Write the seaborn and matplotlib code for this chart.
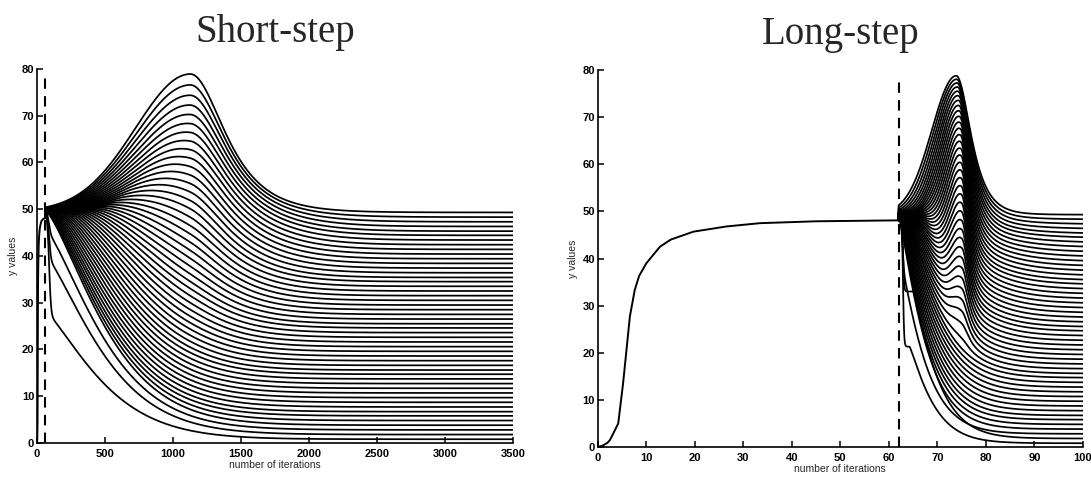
import numpy as np
import pandas as pd
import seaborn as sns
import matplotlib.pyplot as plt

sns.set_theme(style="ticks")
plt.rcParams["font.family"] = ["Liberation Sans", "DejaVu Sans"]

# warm-up phase shared by both schemes: (iteration, y)
warmup_iter = [0, 1, 2, 2.5, 3, 4.2, 5.2, 5.9, 6.6, 7.6, 8.5, 10, 12.8, 15, 19.7, 26.5, 33.4, 45, 62]
warmup_y = [0, 0.3, 0.9, 1.5, 2.5, 5, 13.5, 20.6, 27.7, 33.3, 36.3, 39, 42.5, 44, 45.7, 46.8, 47.5, 47.9, 48.1]

# level each trajectory settles at, bottom to top
final_levels = [0.8, 1.8, 2.8, 3.8, 4.8, 5.8, 6.7, 7.7, 8.7, 9.7,
                10.7, 11.7, 12.7, 13.7, 14.7, 15.6, 16.6, 17.6, 18.6, 19.6,
                20.6, 21.6, 22.6, 23.6, 24.6, 25.5, 26.5, 27.5, 28.5, 29.5,
                30.5, 31.5, 32.5, 33.5, 34.5, 35.4, 36.4, 37.4, 38.4, 39.4,
                40.4, 41.4, 42.4, 43.4, 44.4, 45.3, 46.3, 47.3, 48.3, 49.3]

switch_iter = 62          # end of warm-up, start of the step scheme
start_level = 49.5        # common level right after the switch
peak_level = {"Short-step": 78.7, "Long-step": 78.6}
iter_max = {"Short-step": 3500, "Long-step": 100}

# first jump of the lowest trajectories right after the switch
drop_levels = {"Short-step": [28.0, 40.0, 45.5], "Long-step": [21.3, 33.0, 42.0]}


def hump(u, up, sl, wr):
    return np.where(u < up, np.exp(-((up - u) / sl) ** 2), 1.0 / np.cosh((u - up) / wr))


def trajectories(scheme):
    n = len(final_levels)
    u = np.concatenate([np.linspace(0, 0.05, 200), np.linspace(0.05, 1, 1200)[1:]])
    x = switch_iter + u * (iter_max[scheme] - switch_iter)
    frames = []
    for i, f in enumerate(final_levels):
        t = i / (n - 1)
        h_top = peak_level[scheme] - final_levels[-1]
        q = 1.0
        if i < len(drop_levels[scheme]):
            q = (drop_levels[scheme][i] - f) / (start_level - f)
        if scheme == "Short-step":
            a = 0.3 * t ** 2
            tau = 0.145 + 0.12 * t
            p = 1.3 + 0.9 * t
            h = h_top * t ** 4
            g = hump(u, 0.31, 0.166, 0.065)
            ud, uw = 0.008, 0.002
        else:
            v = np.clip((t - 0.3) / 0.7, 0, 1)
            a = [0.06, 0.08][i] if i < 2 else 0.2 * t ** 2
            tau = 0.14 + 0.26 * t
            p = 1.15 + 0.5 * t
            h = h_top * v ** 0.7
            g = hump(u, 0.345 - 0.032 * v ** 3, 0.08 + 0.107 * v ** 3, 0.03 + 0.04 * v ** 3)
            ud, uw = 0.024, 0.003
        R = np.exp(-(np.clip(u - a, 0, None) / tau) ** p)
        Q = 1 - (1 - q) / (1 + np.exp(-(u - ud) / uw))
        y = f + (start_level - f) * R * Q + h * g
        xs = np.concatenate([[switch_iter], x])
        ys = np.concatenate([[warmup_y[-1]], y])
        frames.append(pd.DataFrame({"iteration": xs, "y": ys, "curve": i}))
    return pd.concat(frames, ignore_index=True)


fig = plt.figure(figsize=(10.91, 4.79), dpi=100)
axes = {
    "Short-step": fig.add_axes([0.0339, 0.0752, 0.4363, 0.781]),
    "Long-step": fig.add_axes([0.548, 0.0668, 0.4445, 0.787]),
}
xticks = {"Short-step": np.arange(0, 3501, 500), "Long-step": np.arange(0, 101, 10)}

warm = pd.DataFrame({"iteration": warmup_iter, "y": warmup_y})

for scheme, ax in axes.items():
    data = trajectories(scheme)
    sns.lineplot(data=data, x="iteration", y="y", units="curve", estimator=None,
                 sort=False, color="black", linewidth=1.25, ax=ax)
    sns.lineplot(data=warm, x="iteration", y="y", estimator=None, sort=False,
                 color="black", linewidth=1.4, ax=ax)
    ax.axvline(switch_iter, ymin=0, ymax=0.98, color="black", linestyle=(0, (5, 3.5)), linewidth=1.5)
    ax.set_xlim(0, iter_max[scheme])
    ax.set_ylim(0, 80)
    ax.set_xticks(xticks[scheme])
    ax.set_yticks(np.arange(0, 81, 10))
    ax.tick_params(direction="in", length=4, width=1.1, labelsize=8, pad=2, colors="black")
    ax.tick_params(axis="x", pad=4)
    for lab in ax.get_xticklabels() + ax.get_yticklabels():
        lab.set_fontweight("bold")
    sns.despine(ax=ax)
    for side in ("left", "bottom"):
        ax.spines[side].set_linewidth(1.2)
        ax.spines[side].set_color("black")
    ax.set_xlabel("number of iterations", fontsize=7.5, labelpad=1)
    ax.set_ylabel("y values", fontsize=7.5, labelpad=3)
    ax.set_title(scheme, fontsize=28, family="Liberation Serif", pad=19)

fig.savefig("out.png", dpi=100, facecolor="white")
